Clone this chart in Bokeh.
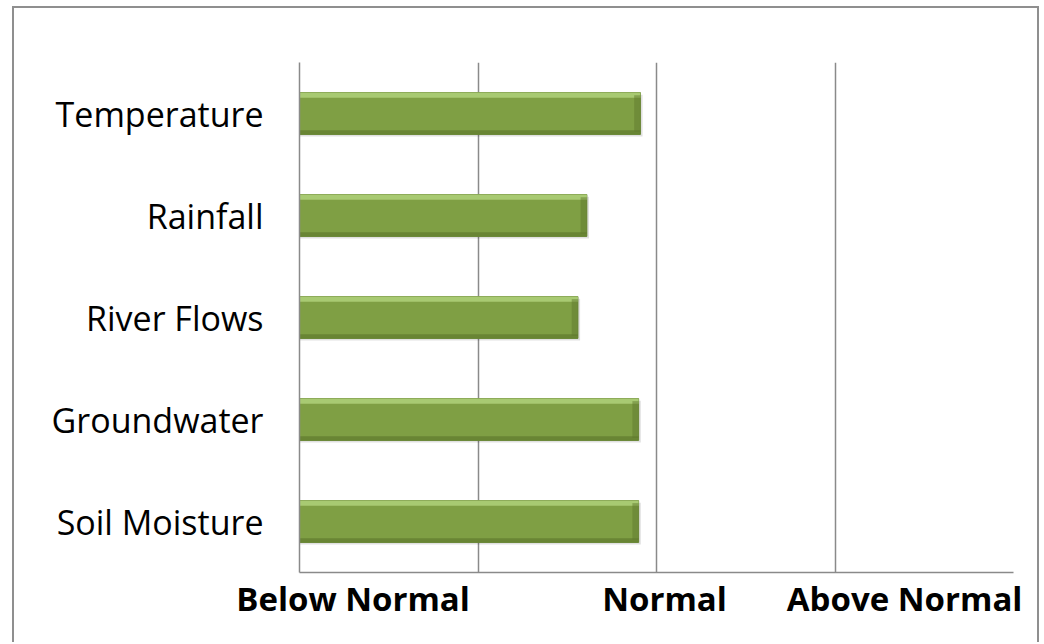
from bokeh.plotting import figure
from bokeh.models import FixedTicker, ColumnDataSource, FactorRange
from bokeh.transform import dodge
from bokeh.embed import file_html
from bokeh.resources import INLINE

categories = ["Temperature", "Rainfall", "River Flows", "Groundwater", "Soil Moisture"]
values = [1.91, 1.61, 1.56, 1.90, 1.90]
tick_positions = [0.30, 2.045, 3.39]
tick_labels = ["Below Normal", "Normal", "Above Normal"]
grid_positions = [1, 2, 3, 4]

factors = list(reversed(categories))
src = ColumnDataSource(dict(
    cat=categories,
    val=values,
    val_shadow=[v + 0.012 for v in values],
    edge_left=[v - 0.035 for v in values],
))

p = figure(width=1027, height=636, output_backend="svg", toolbar_location=None,
           y_range=FactorRange(factors=factors, range_padding=0),
           x_range=(0, 4),
           min_border_left=285, min_border_right=28, min_border_top=54, min_border_bottom=72)
p.styles = {"border-left": "2px solid #8f8f8f", "border-top": "2px solid #8f8f8f",
            "border-right": "2px solid #8f8f8f", "margin-left": "12px", "margin-top": "6px"}
p.outline_line_color = None
p.background_fill_color = "white"

# shadow
p.hbar(y=dodge("cat", -0.02, range=p.y_range), left=0, right="val_shadow", height=0.41,
       source=src, fill_color="black", fill_alpha=0.12, line_color=None)
# main bar
p.hbar(y="cat", left=0, right="val", height=0.41, source=src,
       fill_color="#7f9f44", line_color="#6f8c3b", line_width=1)
# top highlight
p.hbar(y=dodge("cat", 0.18, range=p.y_range), left=0, right="val", height=0.05, source=src,
       fill_color="#b3d47e", fill_alpha=0.8, line_color=None)
# bottom darker strip
p.hbar(y=dodge("cat", -0.185, range=p.y_range), left=0, right="val", height=0.04, source=src,
       fill_color="#5f7a2d", fill_alpha=0.7, line_color=None)
# right edge darker
p.hbar(y="cat", left="edge_left", right="val", height=0.36, source=src,
       fill_color="#5f7a2d", fill_alpha=0.5, line_color=None)

# x axis
p.xaxis.ticker = FixedTicker(ticks=tick_positions)
p.xaxis.major_label_overrides = {t: l for t, l in zip(tick_positions, tick_labels)}
p.xaxis.major_label_text_font = "Open Sans"
p.xaxis.major_label_text_font_style = "bold"
p.xaxis.major_label_text_font_size = "33px"
p.xaxis.major_label_text_color = "black"
p.xaxis.major_tick_line_color = None
p.xaxis.major_tick_out = 0
p.xaxis.minor_tick_line_color = None
p.xaxis.axis_line_color = "#8a8a8a"
p.xaxis.axis_line_width = 1.5
p.xaxis.major_label_standoff = 3

# y axis
p.yaxis.major_label_text_font = "Open Sans"
p.yaxis.major_label_text_font_size = "34px"
p.yaxis.major_label_text_color = "black"
p.yaxis.major_tick_line_color = None
p.yaxis.major_tick_out = 0
p.yaxis.minor_tick_line_color = None
p.yaxis.axis_line_color = "#8a8a8a"
p.yaxis.axis_line_width = 1.5
p.yaxis.major_label_standoff = 36

# grids
p.xgrid.ticker = FixedTicker(ticks=grid_positions)
p.xgrid.grid_line_color = "#8a8a8a"
p.xgrid.grid_line_width = 1.5
p.ygrid.grid_line_color = None

open("out.html", "w").write(file_html(p, INLINE))
